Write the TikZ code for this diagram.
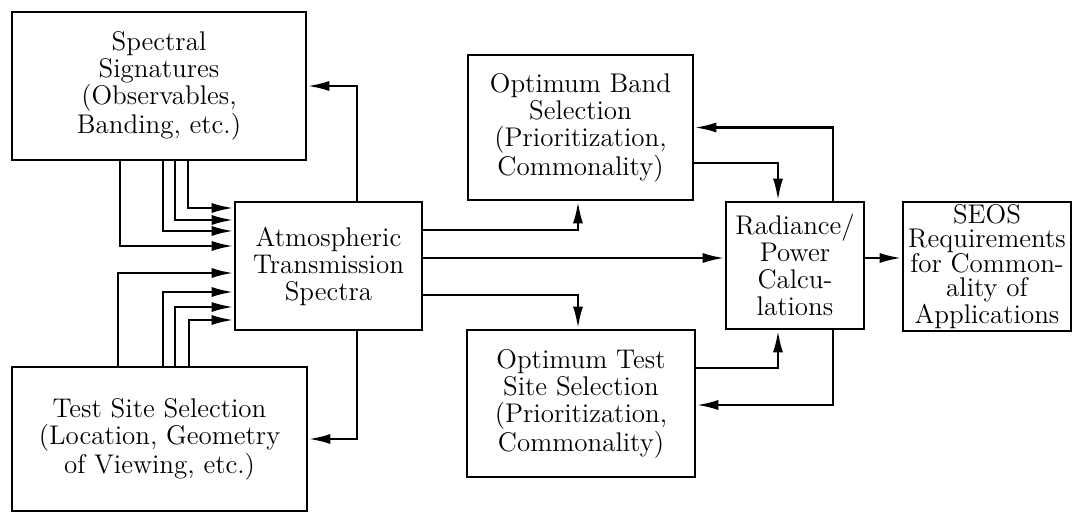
\documentclass[tikz,border=0pt]{standalone}
\usepackage{tikz}
\usetikzlibrary{positioning, arrows.meta}

\begin{document}
\begin{tikzpicture}[x=0.5pt, y=-0.5pt,
    every node/.style={draw, line width=1.3pt, align=center, inner sep=0pt,
        font=\fontsize{13.5}{13.5}\selectfont},
    flow/.style={line width=1.3pt, -{Latex[length=11pt, width=5pt]}}]

    % Keep the page the size of the reference
    \useasboundingbox (0,0) rectangle (1073,513);

    % Define the 7 Boxes (placed at their centres)
    \node[minimum width=147pt, minimum height=74pt] (spec) at (159,86)
        {Spectral\\Signatures\\(Observables,\\Banding, etc.)};
    \node[minimum width=147.5pt, minimum height=72pt] (test) at (159.5,439)
        {Test Site Selection\\(Location, Geometry\\of Viewing, etc.)};
    \node[minimum width=93.5pt, minimum height=64pt] (atm) at (328.5,266)
        {Atmospheric\\Transmission\\Spectra};
    \node[minimum width=112.5pt, minimum height=72.5pt] (band) at (580.5,127.5)
        {Optimum Band\\Selection\\(Prioritization,\\Commonality)};
    \node[minimum width=114pt, minimum height=73.5pt] (otest) at (581,403.5)
        {Optimum Test\\Site Selection\\(Prioritization,\\Commonality)};
    \node[minimum width=69pt, minimum height=63.5pt] (rad) at (795,265.5)
        {Radiance/\\Power\\Calcu-\\lations};
    \node[minimum width=84pt, minimum height=64.5pt,
          font=\fontsize{13.5}{12.3}\selectfont] (seos) at (987,266.5)
        {SEOS\\Requirements\\for Common-\\ality of\\Applications};

    % Draw the Connectors
    \begin{scope}
        % Inputs into the atmospheric box
        \foreach \xa/\ya in {188/208, 175/220, 163/231, 120/246}
            \draw[flow] (spec.south -| \xa,0) |- (atm.west |- 0,\ya);
        \foreach \xa/\ya in {118/273, 163/292, 175/307, 189/320}
            \draw[flow] (test.north -| \xa,0) |- (atm.west |- 0,\ya);

        % Feedback to the left boxes
        \draw[flow] (atm.north -| 357,0) |- (spec.east);
        \draw[flow] (atm.south -| 357,0) |- (test.east);

        % Atmospheric box to the middle column
        \draw[flow] (atm.east |- 0,230) -| (band.south -| 578,0);
        \draw[flow] (atm.east |- 0,258) -- (rad.west |- 0,258);
        \draw[flow] (atm.east |- 0,295) -| (otest.north -| 578,0);

        % Loops with the radiance box
        \draw[flow] (rad.north -| 833,0) |- (band.east);
        \draw[flow] (band.east |- 0,163) -| (rad.north -| 778,0);
        \draw[flow] (otest.east |- 0,368) -| (rad.south -| 778,0);
        \draw[flow] (rad.south -| 833,0) |- (otest.east |- 0,405);

        % Final output
        \draw[flow] (rad.east |- 0,258) -- (seos.west |- 0,258);
    \end{scope}
\end{tikzpicture}
\end{document}
